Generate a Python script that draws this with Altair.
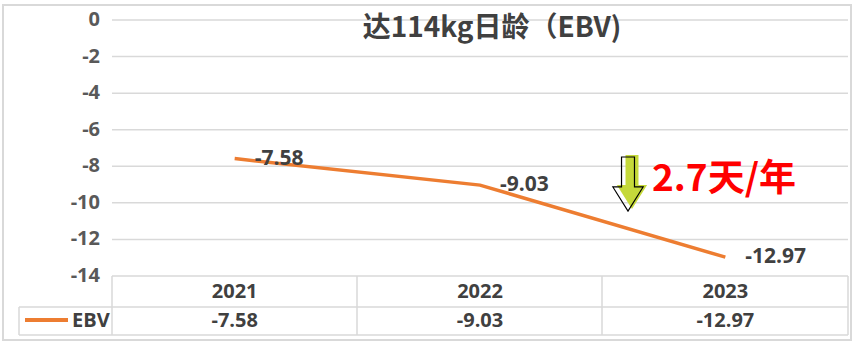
import altair as alt
import pandas as pd

years = ["2021", "2022", "2023"]
ebv = [-7.58, -9.03, -12.97]
y_ticks = [0, -2, -4, -6, -8, -10, -12, -14]
y_tick_labels = ["0", "-2", "-4", "-6", "-8", "-10", "-12", "-14"]
series_name = "EBV"
title_text = "达114kg日龄（EBV)"
note_text = "2.7天/年"

df = pd.DataFrame({"year": years, "ebv": ebv})
df["label"] = [f"{v:.2f}" for v in ebv]
ticks_df = pd.DataFrame({"ebv": y_ticks, "tl": y_tick_labels})
one = pd.DataFrame({"k": [0]})

W, H = 736, 256
GRID = "#d9d9d9"
TXT = "#404040"
NUM_FONT = "Open Sans"
CJK_FONT = "Noto Sans CJK SC"

xenc = alt.X("year:N", scale=alt.Scale(type="point", padding=0.5, domain=years), axis=None)
yscale = alt.Scale(domain=[-14, 0], nice=False, zero=False)
yenc = alt.Y("ebv:Q", scale=yscale, axis=None)

base = alt.Chart(df)


def rule(x1, x2, y1, y2, color=GRID, w=1.5):
    return alt.Chart(one).mark_rule(color=color, strokeWidth=w).encode(
        x=alt.value(x1), x2=alt.value(x2), y=alt.value(y1), y2=alt.value(y2))


grid = alt.Chart(ticks_df).mark_rule(color=GRID, strokeWidth=1.5).encode(
    y=yenc, x=alt.value(0), x2=alt.value(W))
tick_labels = alt.Chart(ticks_df).mark_text(
    align="right", baseline="middle", font=NUM_FONT, fontSize=20,
    fontWeight="bold", color="#595959").encode(
    y=yenc, x=alt.value(-12), text="tl:N")

line = base.mark_line(color="#ED7D31", strokeWidth=3.5).encode(x=xenc, y=yenc)

labels = base.mark_text(align="left", baseline="middle", dx=20, font=NUM_FONT,
                        fontSize=21, fontWeight="bold", color=TXT).encode(
    x=xenc, y=yenc, text="label:N")

# table rows
year_row = base.mark_text(align="center", baseline="middle", font=NUM_FONT,
                          fontSize=20, fontWeight="bold", color=TXT).encode(
    x=xenc, y=alt.value(272), text="year:N")
val_row = base.mark_text(align="center", baseline="middle", font=NUM_FONT,
                         fontSize=20, fontWeight="bold", color=TXT).encode(
    x=xenc, y=alt.value(301), text="label:N")

# table grid
table = [
    rule(-93, W, 287, 287),
    rule(-93, W, 315, 315),
    rule(-93, -93, 287, 315),
    rule(0, 0, 256, 315),
    rule(245, 245, 256, 315),
    rule(490, 490, 256, 315),
    rule(W, W, 256, 315),
]

legend_line = rule(-87, -44, 300, 300, color="#ED7D31", w=4)
legend_text = alt.Chart(one).mark_text(align="left", baseline="middle", font=NUM_FONT,
                                       fontSize=20, fontWeight="bold", color=TXT).encode(
    x=alt.value(-40), y=alt.value(301), text=alt.value(series_name))

outer = alt.Chart(one).mark_rect(fill=None, stroke=GRID, strokeWidth=2).encode(
    x=alt.value(-109), x2=alt.value(739), y=alt.value(-15), y2=alt.value(320))

title = alt.Chart(one).mark_text(align="center", baseline="middle", font=CJK_FONT,
                                 fontSize=28, fontWeight="bold", color=TXT).encode(
    x=alt.value(380), y=alt.value(9), text=alt.value(title_text))

arrow_path = "M -0.24 -1 L 0.24 -1 L 0.24 0.11 L 0.56 0.11 L 0 1 L -0.56 0.11 L -0.24 0.11 Z"
arrow_fill = alt.Chart(one).mark_point(shape=arrow_path, size=2916, filled=True,
                                       fill="#C5D93A", strokeWidth=0, opacity=1).encode(
    x=alt.value(520), y=alt.value(162))
arrow_outline = alt.Chart(one).mark_point(shape=arrow_path, size=2916, filled=False,
                                          stroke="#000000", strokeWidth=1.2, opacity=1).encode(
    x=alt.value(516), y=alt.value(164))

note = alt.Chart(one).mark_text(align="left", baseline="middle", font=CJK_FONT,
                                fontSize=37, fontWeight="bold", color="#FF0000").encode(
    x=alt.value(540), y=alt.value(160), text=alt.value(note_text))

chart = alt.layer(
    outer, grid, tick_labels, line, labels, year_row, val_row, *table,
    legend_line, legend_text, title, arrow_fill, arrow_outline, note
).properties(
    width=W, height=H,
    autosize=alt.AutoSizeParams(type="none"),
    padding={"left": 112, "top": 20, "right": 7, "bottom": 68},
    background="white",
).configure_view(stroke=None)

chart.save("out.html", embed_options={"renderer": "svg", "actions": False})
